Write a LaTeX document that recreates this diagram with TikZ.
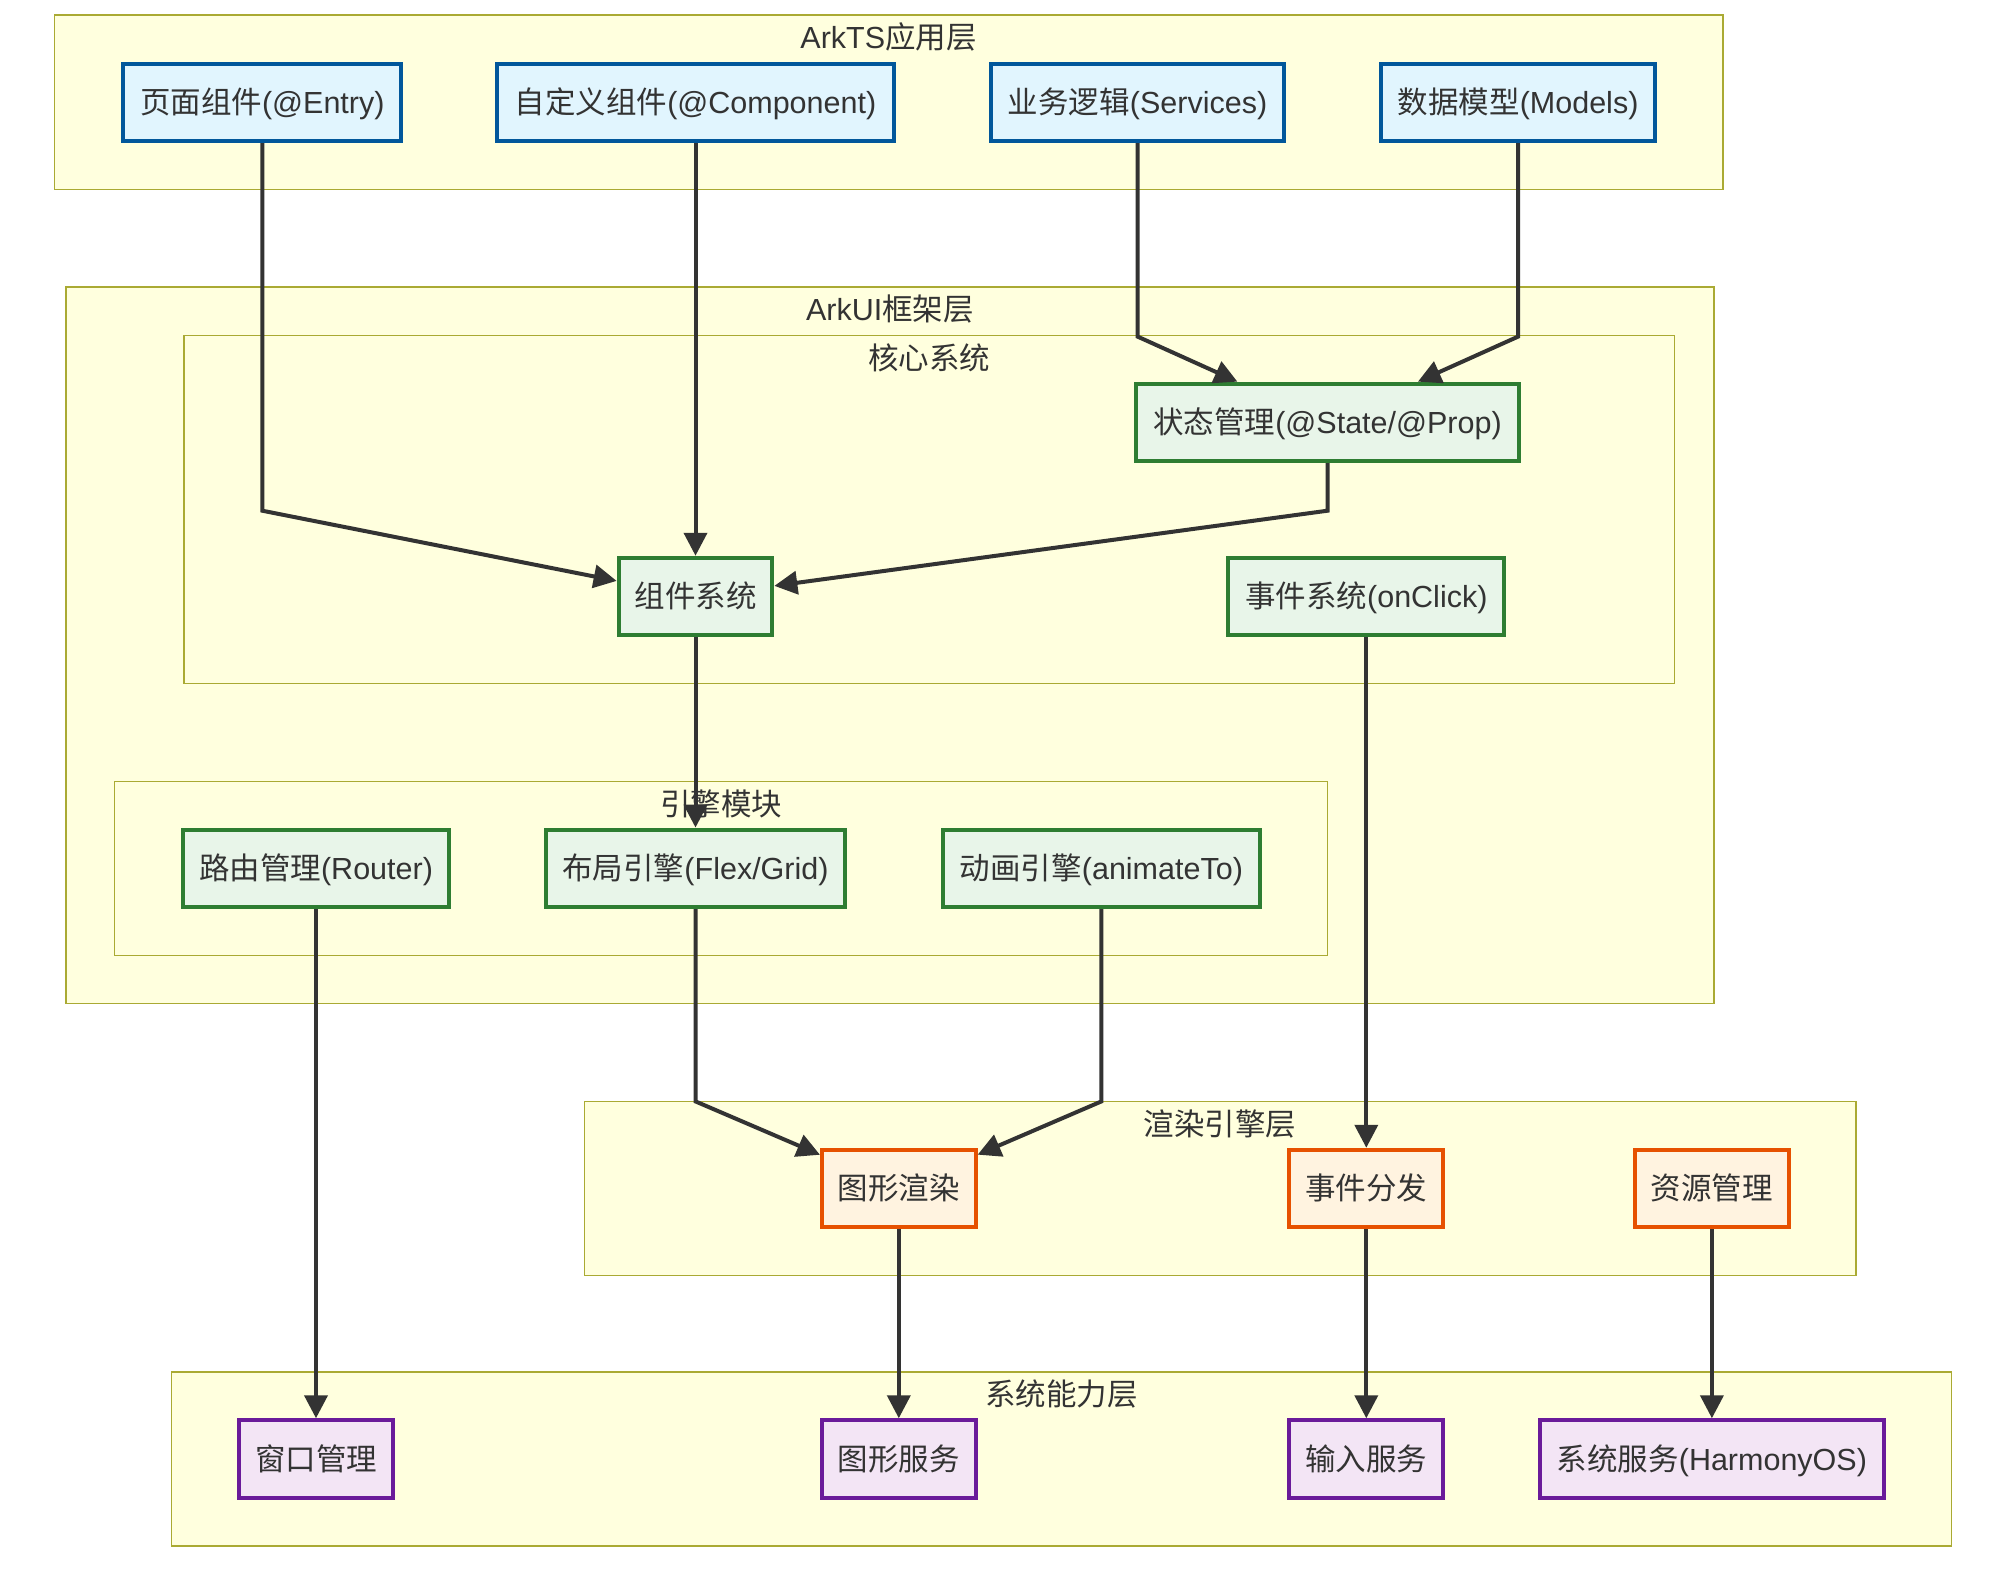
\documentclass[tikz,border=0pt]{standalone}
\usepackage{fontspec}
\setmainfont{Liberation Sans}
\newfontfamily\cjk{Noto Sans CJK SC}
\usetikzlibrary{arrows.meta}
\definecolor{txt}{HTML}{333333}
\definecolor{clfill}{HTML}{FFFFDE}
\definecolor{clline}{HTML}{AAAA33}
\definecolor{bfill}{HTML}{E1F5FE}
\definecolor{bline}{HTML}{01579B}
\definecolor{gfill}{HTML}{E8F5E9}
\definecolor{gline}{HTML}{2E7D32}
\definecolor{ofill}{HTML}{FFF3E0}
\definecolor{oline}{HTML}{E65100}
\definecolor{pfill}{HTML}{F3E5F5}
\definecolor{pline}{HTML}{6A1B9A}
\tikzset{
  cluster/.style={draw=clline, fill=clfill, line width=1.6pt},
  clabel/.style={text=txt, font=\fontsize{30.5}{36}\selectfont, inner sep=0pt, text height=26.5pt, text depth=4pt},
  box/.style={rectangle, line width=4pt, minimum height=77.5pt, inner sep=0pt, text=txt,
    font=\fontsize{30.5}{36}\selectfont, text height=26.5pt, text depth=4pt},
  bluebox/.style={box, draw=bline, fill=bfill},
  greenbox/.style={box, draw=gline, fill=gfill},
  orangebox/.style={box, draw=oline, fill=ofill},
  purplebox/.style={box, draw=pline, fill=pfill},
  edge/.style={draw=txt, line width=4pt, -{Triangle[length=23pt,width=23pt]}}
}
\begin{document}
\begin{tikzpicture}[x=1pt,y=-1pt]
\fill[white] (0,0) rectangle (1992,1580);
\useasboundingbox (0,0) rectangle (1992,1580);

% clusters
\path[cluster] (54.6,15.2) rectangle (1722.7,189.3);
\node[clabel] (lArkTS) at (888.6,37.7) {ArkTS{\cjk 应用层}};
\path[cluster] (66.1,287.1) rectangle (1713.8,1003.6);
\node[clabel] (lArkUI) at (890,309.6) {ArkUI{\cjk 框架层}};
\path[cluster] (184.2,335.4) rectangle (1674.4,683.5);
\node[clabel] (lCore) at (929.3,357.9) {\cjk 核心系统};
\path[cluster] (114.3,781.3) rectangle (1327.6,955.3);
\node[clabel] (lEngine) at (721,803.8) {\cjk 引擎模块};
\path[cluster] (584.4,1101.4) rectangle (1856.1,1275.5);
\node[clabel] (lRender) at (1220.2,1123.9) {\cjk 渲染引擎层};
\path[cluster] (171.5,1372) rectangle (1951.3,1546.1);
\node[clabel] (lSys) at (1061.4,1394.5) {\cjk 系统能力层};

% nodes
\node[bluebox, minimum width=278.2pt] (entry) at (262.3,102.3) {{\cjk 页面组件}(@Entry)};
\node[bluebox, minimum width=397.7pt] (comp) at (695.5,102.3) {{\cjk 自定义组件}(@Component)};
\node[bluebox, minimum width=293.5pt] (svc) at (1137.6,102.3) {{\cjk 业务逻辑}(Services)};
\node[bluebox, minimum width=274.4pt] (models) at (1518.1,102.3) {{\cjk 数据模型}(Models)};

\node[greenbox, minimum width=383.7pt] (state) at (1327.5,422.4) {{\cjk 状态管理}(@State/@Prop)};
\node[greenbox, minimum width=153.7pt] (compsys) at (695.5,596.5) {\cjk 组件系统};
\node[greenbox, minimum width=275.7pt] (event) at (1366.3,596.5) {{\cjk 事件系统}(onClick)};

\node[greenbox, minimum width=266.8pt] (router) at (316,868.3) {{\cjk 路由管理}(Router)};
\node[greenbox, minimum width=299.8pt] (layout) at (695.5,868.3) {{\cjk 布局引擎}(Flex/Grid)};
\node[greenbox, minimum width=317.6pt] (anim) at (1101.4,868.3) {{\cjk 动画引擎}(animateTo)};

\node[orangebox, minimum width=153.7pt] (render) at (898.8,1188.5) {\cjk 图形渲染};
\node[orangebox, minimum width=153.7pt] (dispatch) at (1366.3,1188.5) {\cjk 事件分发};
\node[orangebox, minimum width=153.7pt] (res) at (1711.9,1188.5) {\cjk 资源管理};

\node[purplebox, minimum width=153.7pt] (window) at (316,1459) {\cjk 窗口管理};
\node[purplebox, minimum width=153.7pt] (gsvc) at (898.8,1459) {\cjk 图形服务};
\node[purplebox, minimum width=153.7pt] (input) at (1366.3,1459) {\cjk 输入服务};
\node[purplebox, minimum width=344.3pt] (sys) at (1711.9,1459) {{\cjk 系统服务}(HarmonyOS)};

% bend points
\coordinate (bEntry) at (262.3,510.7);
\coordinate (bState) at (1327.5,510.7);
\coordinate (bSvc) at (1137.6,336.6);
\coordinate (bModels) at (1518.1,336.6);
\coordinate (bLayout) at (695.5,1101.4);
\coordinate (bAnim) at (1101.4,1101.4);

% edges
\draw[edge] (entry.south) -- (bEntry) -- (compsys);
\draw[edge] (comp.south) -- (compsys.north);
\draw[edge] (svc.south) -- (bSvc) -- (state);
\draw[edge] (models.south) -- (bModels) -- (state);
\draw[edge] (state.south) -- (bState) -- (compsys);
\draw[edge] (compsys.south) -- (layout.north);
\draw[edge] (event.south) -- (dispatch.north);
\draw[edge] (router.south) -- (window.north);
\draw[edge] (layout.south) -- (bLayout) -- (render);
\draw[edge] (anim.south) -- (bAnim) -- (render);
\draw[edge] (render.south) -- (gsvc.north);
\draw[edge] (dispatch.south) -- (input.north);
\draw[edge] (res.south) -- (sys.north);
\end{tikzpicture}
\end{document}
